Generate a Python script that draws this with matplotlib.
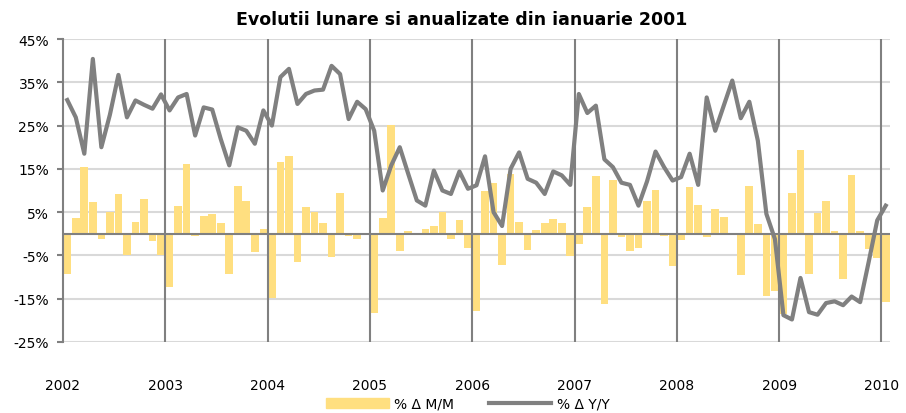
import matplotlib.pyplot as plt
from matplotlib.patches import Patch
from matplotlib.lines import Line2D

# monthly data, Jan 2002 .. Jan 2010
mm = [
    -9.2, 3.6, 15.5, 7.3, -1.3, 5.0, 9.1, -4.8, 2.8, 8.1, -1.7, -4.8,      # 2002
    -12.2, 6.5, 16.2, -0.4, 4.2, 4.6, 2.5, -9.2, 11.1, 7.6, -4.3, 1.2,     # 2003
    -14.8, 16.6, 17.9, -6.5, 6.3, 5.0, 2.6, -5.4, 9.4, -0.5, -1.2, 0.0,    # 2004
    -18.3, 3.7, 25.1, -4.0, 0.6, -0.3, 1.2, 1.8, 5.0, -1.2, 3.3, -3.3,     # 2005
    -17.8, 9.9, 11.8, -7.1, 13.8, 2.8, -3.8, 0.9, 2.5, 3.5, 2.6, -5.2,     # 2006
    -2.3, 6.3, 13.3, -16.2, 12.5, -0.8, -4.0, -3.3, 7.6, 10.2, -0.5, -7.5, # 2007
    -1.5, 10.8, 6.7, -0.8, 5.8, 3.9, 0.2, -9.6, 11.0, 2.2, -14.4, -13.3,   # 2008
    -18.5, 9.5, 19.3, -9.4, 4.8, 7.5, 0.7, -10.5, 13.6, 0.7, -3.6, -5.6,   # 2009
    -15.7,                                                                 # 2010
]
yy = [
    30.9, 26.9, 18.5, 40.4, 20.0, 27.5, 36.7, 26.9, 30.8, 29.8, 28.9, 32.2,
    28.5, 31.5, 32.3, 22.7, 29.2, 28.7, 21.9, 15.8, 24.6, 23.8, 20.8, 28.5,
    25.0, 36.2, 38.1, 30.0, 32.3, 33.1, 33.3, 38.8, 36.9, 26.5, 30.5, 28.8,
    23.8, 10.0, 15.8, 20.0, 13.8, 7.7, 6.5, 14.6, 10.0, 9.2, 14.4, 10.4,
    11.2, 17.9, 5.0, 1.8, 15.0, 18.8, 12.7, 11.8, 9.2, 14.4, 13.5, 11.3,
    32.3, 27.9, 29.6, 17.2, 15.4, 11.8, 11.3, 6.5, 12.1, 19.0, 15.4, 12.3,
    13.1, 18.5, 11.3, 31.5, 23.8, 29.6, 35.4, 26.7, 30.5, 21.5, 4.6, -1.2,
    -18.8, -19.8, -10.2, -18.1, -18.7, -16.0, -15.6, -16.5, -14.5, -15.8, -6.5, 3.1,
    6.5,
]
years = [str(y) for y in range(2002, 2011)]
yticks = [45, 35, 25, 15, 5, -5, -15, -25]

x = list(range(len(mm)))
fig = plt.figure(figsize=(9.06, 4.14), dpi=100)
ax = fig.add_axes([63 / 906, 1 - 343 / 414, (890 - 63) / 906, (343 - 40) / 414])

for t in yticks:
    ax.axhline(t, color='#d9d9d9', lw=1.5, zorder=0)
ax.bar(x, mm, width=0.9, color='#ffdf80', zorder=1)
year_pos = [12 * k - 0.5 for k in range(len(years))]
for p in year_pos[1:]:
    ax.axvline(p, color='#808080', lw=1.5, zorder=2)
ax.axhline(0, color='#808080', lw=1.5, zorder=2)
ax.plot(x, yy, color='#808080', lw=3.0, zorder=3)

ax.set_xlim(-0.5, len(mm) - 0.5)
ax.set_ylim(-25, 45)
ax.set_yticks(yticks)
ax.set_yticklabels([f"{t}%" for t in yticks], fontsize=10)
ax.set_xticks(year_pos)
ax.set_xticklabels(years, fontsize=10)
ax.tick_params(axis='x', length=0, pad=26)
ax.tick_params(axis='y', length=4, color='#808080', width=1.5, pad=6)
for s in ['top', 'right', 'bottom']:
    ax.spines[s].set_visible(False)
ax.spines['left'].set_color('#808080')
ax.spines['left'].set_linewidth(1.5)

fig.text(462 / 906, 1 - 20 / 414, "Evolutii lunare si anualizate din ianuarie 2001",
         ha='center', va='center', fontsize=12.5, fontweight='bold')

handles = [Patch(color='#ffdf80'), Line2D([], [], color='#808080', lw=3)]
fig.legend(handles, ["% Δ M/M", "% Δ Y/Y"], loc='center', bbox_to_anchor=(468 / 906, 1 - 405 / 414),
           ncol=2, frameon=False, fontsize=10, handlelength=4.5, columnspacing=2.5, handletextpad=0.4)

fig.savefig('out.png', dpi=100)
